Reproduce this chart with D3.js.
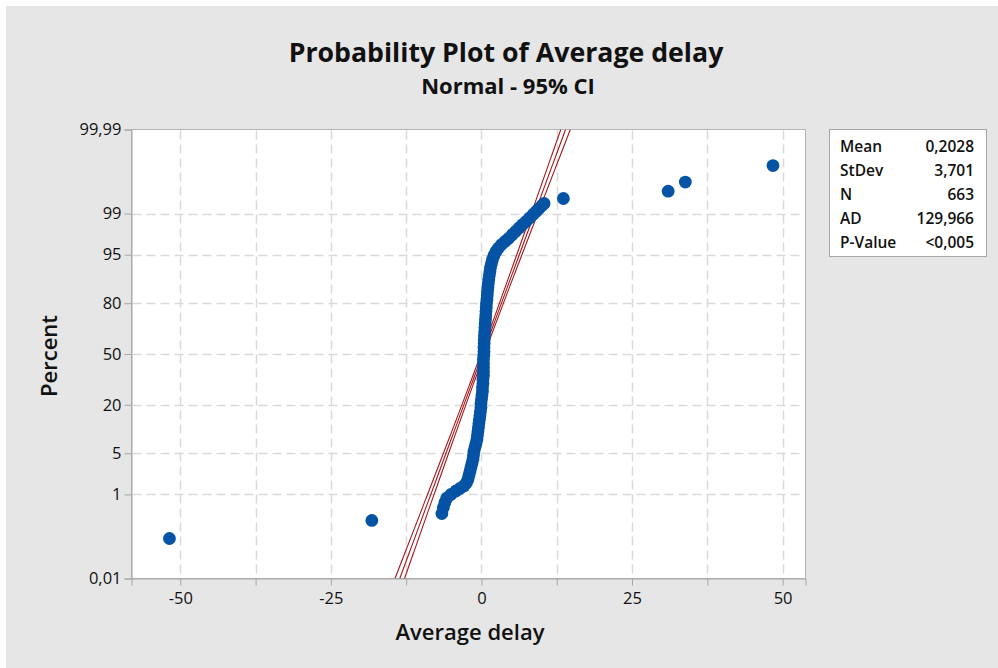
<!DOCTYPE html>
<html>
<head>
<meta charset="utf-8">
<script src="https://cdn.jsdelivr.net/npm/d3@7"></script>
<style>
  html, body { margin: 0; padding: 0; background: #ffffff; }
  svg { display: block; font-family: "Open Sans", "Noto Sans", sans-serif; }
</style>
</head>
<body>
<svg id="chart" width="998" height="668"></svg>
<script>
// ---------------- data ----------------
const chartTitle = "Probability Plot of Average delay";
const chartSubtitle = "Normal - 95% CI";
const xAxisTitle = "Average delay";
const yAxisTitle = "Percent";

const xTickValues = [-50, -25, 0, 25, 50];
const xTickLabels = ["-50", "-25", "0", "25", "50"];
const xGridValues = [-50, -37.5, -25, -12.5, 0, 12.5, 25, 37.5, 50];

const yTickPercents = [0.01, 1, 5, 20, 50, 80, 95, 99, 99.99];
const yTickLabels = ["0,01", "1", "5", "20", "50", "80", "95", "99", "99,99"];
const yGridPercents = [1, 5, 20, 50, 80, 95, 99];

const statLabels = ["Mean", "StDev", "N", "AD", "P-Value"];
const statValues = ["0,2028", "3,701", "663", "129,966", "<0,005"];

const fitMean = 0.2028;
const fitStDev = 3.701;
const fitN = 663;

const delayValues = [
  -51.8, -18.2, -6.57, -6.32, -6.07, -5.74, -5.07, -4.24, -3.58, -2.91,
  -2.50, -2.25, -2.08, -1.91, -1.75, -1.58, -1.41, -1.33, -1.25, -1.08,
  -0.91, -0.75, -0.67, -0.58, -0.50, -0.42, -0.33, -0.25, -0.17, -0.08,
  -0.08, 0.00, 0.08, 0.17, 0.17, 0.25, 0.25, 0.33, 0.33, 0.33,
  0.33, 0.33, 0.38, 0.42, 0.42, 0.45, 0.47, 0.50, 0.55, 0.58,
  0.62, 0.67, 0.72, 0.75, 0.80, 0.83, 0.91, 0.96, 1.01, 1.08,
  1.13, 1.21, 1.30, 1.41, 1.50, 1.66, 1.83, 2.08, 2.41, 2.83,
  3.33, 3.91, 4.49, 5.07, 5.66, 6.24, 6.82, 7.40, 7.98, 8.57,
  9.07, 9.56, 10.06, 10.40, 13.6, 31.0, 33.85, 48.4
];
const percentValues = [
  0.112, 0.291, 0.412, 0.55, 0.695, 0.854, 0.998, 1.163, 1.294, 1.437,
  1.63, 1.88, 2.21, 2.58, 3.01, 3.48, 4.02, 4.64, 5.32, 6.07,
  6.91, 7.84, 8.85, 9.96, 11.17, 12.49, 13.90, 15.41, 17.04, 18.78,
  20.61, 22.55, 24.59, 26.72, 28.95, 31.25, 33.64, 36.09, 38.60, 41.15,
  43.75, 46.37, 49.01, 51.65, 54.29, 56.90, 59.49, 62.04, 64.53, 66.97,
  69.33, 71.62, 73.82, 75.93, 77.94, 79.86, 81.67, 83.37, 84.97, 86.47,
  87.86, 89.14, 90.33, 91.41, 92.40, 93.31, 94.12, 94.86, 95.52, 96.04,
  96.51, 96.88, 97.21, 97.57, 97.88, 98.16, 98.40, 98.59, 98.79, 98.96,
  99.09, 99.20, 99.305, 99.367, 99.5, 99.65, 99.78, 99.91
];

// ---------------- helpers ----------------
// inverse standard normal CDF (Acklam)
function probit(p) {
  const a = [-3.969683028665376e+01, 2.209460984245205e+02, -2.759285104469687e+02, 1.383577518672690e+02, -3.066479806614716e+01, 2.506628277459239e+00];
  const b = [-5.447609879822406e+01, 1.615858368580409e+02, -1.556989798598866e+02, 6.680131188771972e+01, -1.328068155288572e+01];
  const c = [-7.784894002430293e-03, -3.223964580411365e-01, -2.400758277161838e+00, -2.549671350124114e+00, 4.374664141464968e+00, 2.938163982698783e+00];
  const d = [7.784695709100383e-03, 3.224671290700398e-01, 2.445134137142996e+00, 3.754408661907416e+00];
  const plow = 0.02425, phigh = 1 - plow;
  let q, r;
  if (p < plow) {
    q = Math.sqrt(-2 * Math.log(p));
    return (((((c[0]*q+c[1])*q+c[2])*q+c[3])*q+c[4])*q+c[5]) / ((((d[0]*q+d[1])*q+d[2])*q+d[3])*q+1);
  }
  if (p <= phigh) {
    q = p - 0.5; r = q * q;
    return (((((a[0]*r+a[1])*r+a[2])*r+a[3])*r+a[4])*r+a[5])*q / (((((b[0]*r+b[1])*r+b[2])*r+b[3])*r+b[4])*r+1);
  }
  q = Math.sqrt(-2 * Math.log(1 - p));
  return -(((((c[0]*q+c[1])*q+c[2])*q+c[3])*q+c[4])*q+c[5]) / ((((d[0]*q+d[1])*q+d[2])*q+d[3])*q+1);
}
const zOf = pct => probit(pct / 100);

// ---------------- layout ----------------
const W = 998, H = 668;
const plot = { left: 131.5, right: 805.5, top: 129.5, bottom: 578.5 };

const svg = d3.select("#chart");
svg.append("rect").attr("x", 0).attr("y", 0).attr("width", W).attr("height", H).attr("fill", "#ffffff");
svg.append("rect").attr("x", 6).attr("y", 6).attr("width", W - 6).attr("height", H - 6).attr("fill", "#e6e6e6");

const x = d3.scaleLinear().domain([-58.1, 53.8]).range([plot.left, plot.right]);
const zMin = zOf(yTickPercents[0]), zMax = zOf(yTickPercents[yTickPercents.length - 1]);
const yz = d3.scaleLinear().domain([zMin, zMax]).range([plot.bottom, plot.top]);
const y = pct => yz(zOf(pct));

// plot background
svg.append("rect")
  .attr("x", plot.left).attr("y", plot.top)
  .attr("width", plot.right - plot.left).attr("height", plot.bottom - plot.top)
  .attr("fill", "#ffffff").attr("stroke", "#b4b4b4").attr("stroke-width", 1);

// grid
const grid = svg.append("g").attr("stroke", "#d9d9d9").attr("stroke-width", 1.5).attr("stroke-dasharray", "9,5");
grid.selectAll("line.vg").data(xGridValues).join("line").attr("class", "vg")
  .attr("x1", d => Math.round(x(d)) + 0.5).attr("x2", d => Math.round(x(d)) + 0.5)
  .attr("y1", plot.top + 1).attr("y2", plot.bottom - 1);
grid.selectAll("line.hg").data(yGridPercents).join("line").attr("class", "hg")
  .attr("y1", d => Math.round(y(d)) + 0.5).attr("y2", d => Math.round(y(d)) + 0.5)
  .attr("x1", plot.left + 1).attr("x2", plot.right - 1);

// axes
const xAxis = d3.axisBottom(x).tickValues(xGridValues).tickSize(7).tickPadding(7)
  .tickFormat(d => { const i = xTickValues.indexOf(d); return i >= 0 ? xTickLabels[i] : ""; });
const gx = svg.append("g").attr("transform", `translate(0,${plot.bottom})`).call(xAxis);
const yAxis = d3.axisLeft(yz).tickValues(yTickPercents.map(zOf)).tickSize(7).tickPadding(3)
  .tickFormat((d, i) => yTickLabels[i]);
const gy = svg.append("g").attr("transform", `translate(${plot.left},0)`).call(yAxis);
[gx, gy].forEach(g => {
  g.select(".domain").attr("stroke", "#a6a6a6");
  g.selectAll(".tick line").attr("stroke", "#a6a6a6");
  g.selectAll(".tick text").attr("fill", "#111").attr("font-size", 16.5)
    .attr("font-family", "'Open Sans', sans-serif");
});

// fitted line and 95% CI
const zs = d3.range(0, 201).map(i => zMin + (zMax - zMin) * i / 200);
const zc = 1.959964;
const se = z => fitStDev * Math.sqrt(1 / fitN + z * z / (2 * fitN));
const clip = svg.append("clipPath").attr("id", "pclip").append("rect")
  .attr("x", plot.left).attr("y", plot.top).attr("width", plot.right - plot.left).attr("height", plot.bottom - plot.top);
const lineGen = f => d3.line().x(z => x(f(z))).y(z => yz(z))(zs);
const fitG = svg.append("g").attr("clip-path", "url(#pclip)")
  .attr("fill", "none").attr("stroke", "#a3171c").attr("stroke-width", 1.1);
fitG.append("path").attr("d", lineGen(z => fitMean + fitStDev * z - zc * se(z)));
fitG.append("path").attr("d", lineGen(z => fitMean + fitStDev * z));
fitG.append("path").attr("d", lineGen(z => fitMean + fitStDev * z + zc * se(z)));

// points
const pts = delayValues.map((v, i) => ({ v, p: percentValues[i] }));
svg.append("g").selectAll("circle").data(pts).join("circle")
  .attr("cx", d => x(d.v)).attr("cy", d => y(d.p)).attr("r", 6.4)
  .attr("fill", "#0553a5");

// titles
svg.append("text").attr("x", 506).attr("y", 62).attr("text-anchor", "middle")
  .attr("font-size", 26.7).attr("font-weight", 700).attr("fill", "#111").text(chartTitle);
svg.append("text").attr("x", 508).attr("y", 94).attr("text-anchor", "middle")
  .attr("font-size", 22).attr("font-weight", 700).attr("fill", "#111").text(chartSubtitle);
svg.append("text").attr("x", 470).attr("y", 640).attr("text-anchor", "middle")
  .attr("font-size", 22).attr("font-weight", 600).attr("fill", "#111").text(xAxisTitle);
svg.append("text").attr("transform", "translate(57,356) rotate(-90)").attr("text-anchor", "middle")
  .attr("font-size", 22).attr("font-weight", 600).attr("fill", "#111").text(yAxisTitle);

// stats box
const box = { x: 829.5, y: 129.5, w: 157, h: 127 };
svg.append("rect").attr("x", box.x).attr("y", box.y).attr("width", box.w).attr("height", box.h)
  .attr("fill", "#ffffff").attr("stroke", "#a6a6a6");
const rowY = d3.scaleLinear().domain([0, 1]).range([151.5, 175.5]);
const sg = svg.append("g").attr("font-size", 15.5).attr("font-weight", 600).attr("fill", "#111");
sg.selectAll("text.lab").data(statLabels).join("text").attr("class", "lab")
  .attr("x", 840).attr("y", (d, i) => rowY(i)).text(d => d);
sg.selectAll("text.val").data(statValues).join("text").attr("class", "val")
  .attr("x", 974).attr("y", (d, i) => rowY(i)).attr("text-anchor", "end").text(d => d);
</script>
</body>
</html>
